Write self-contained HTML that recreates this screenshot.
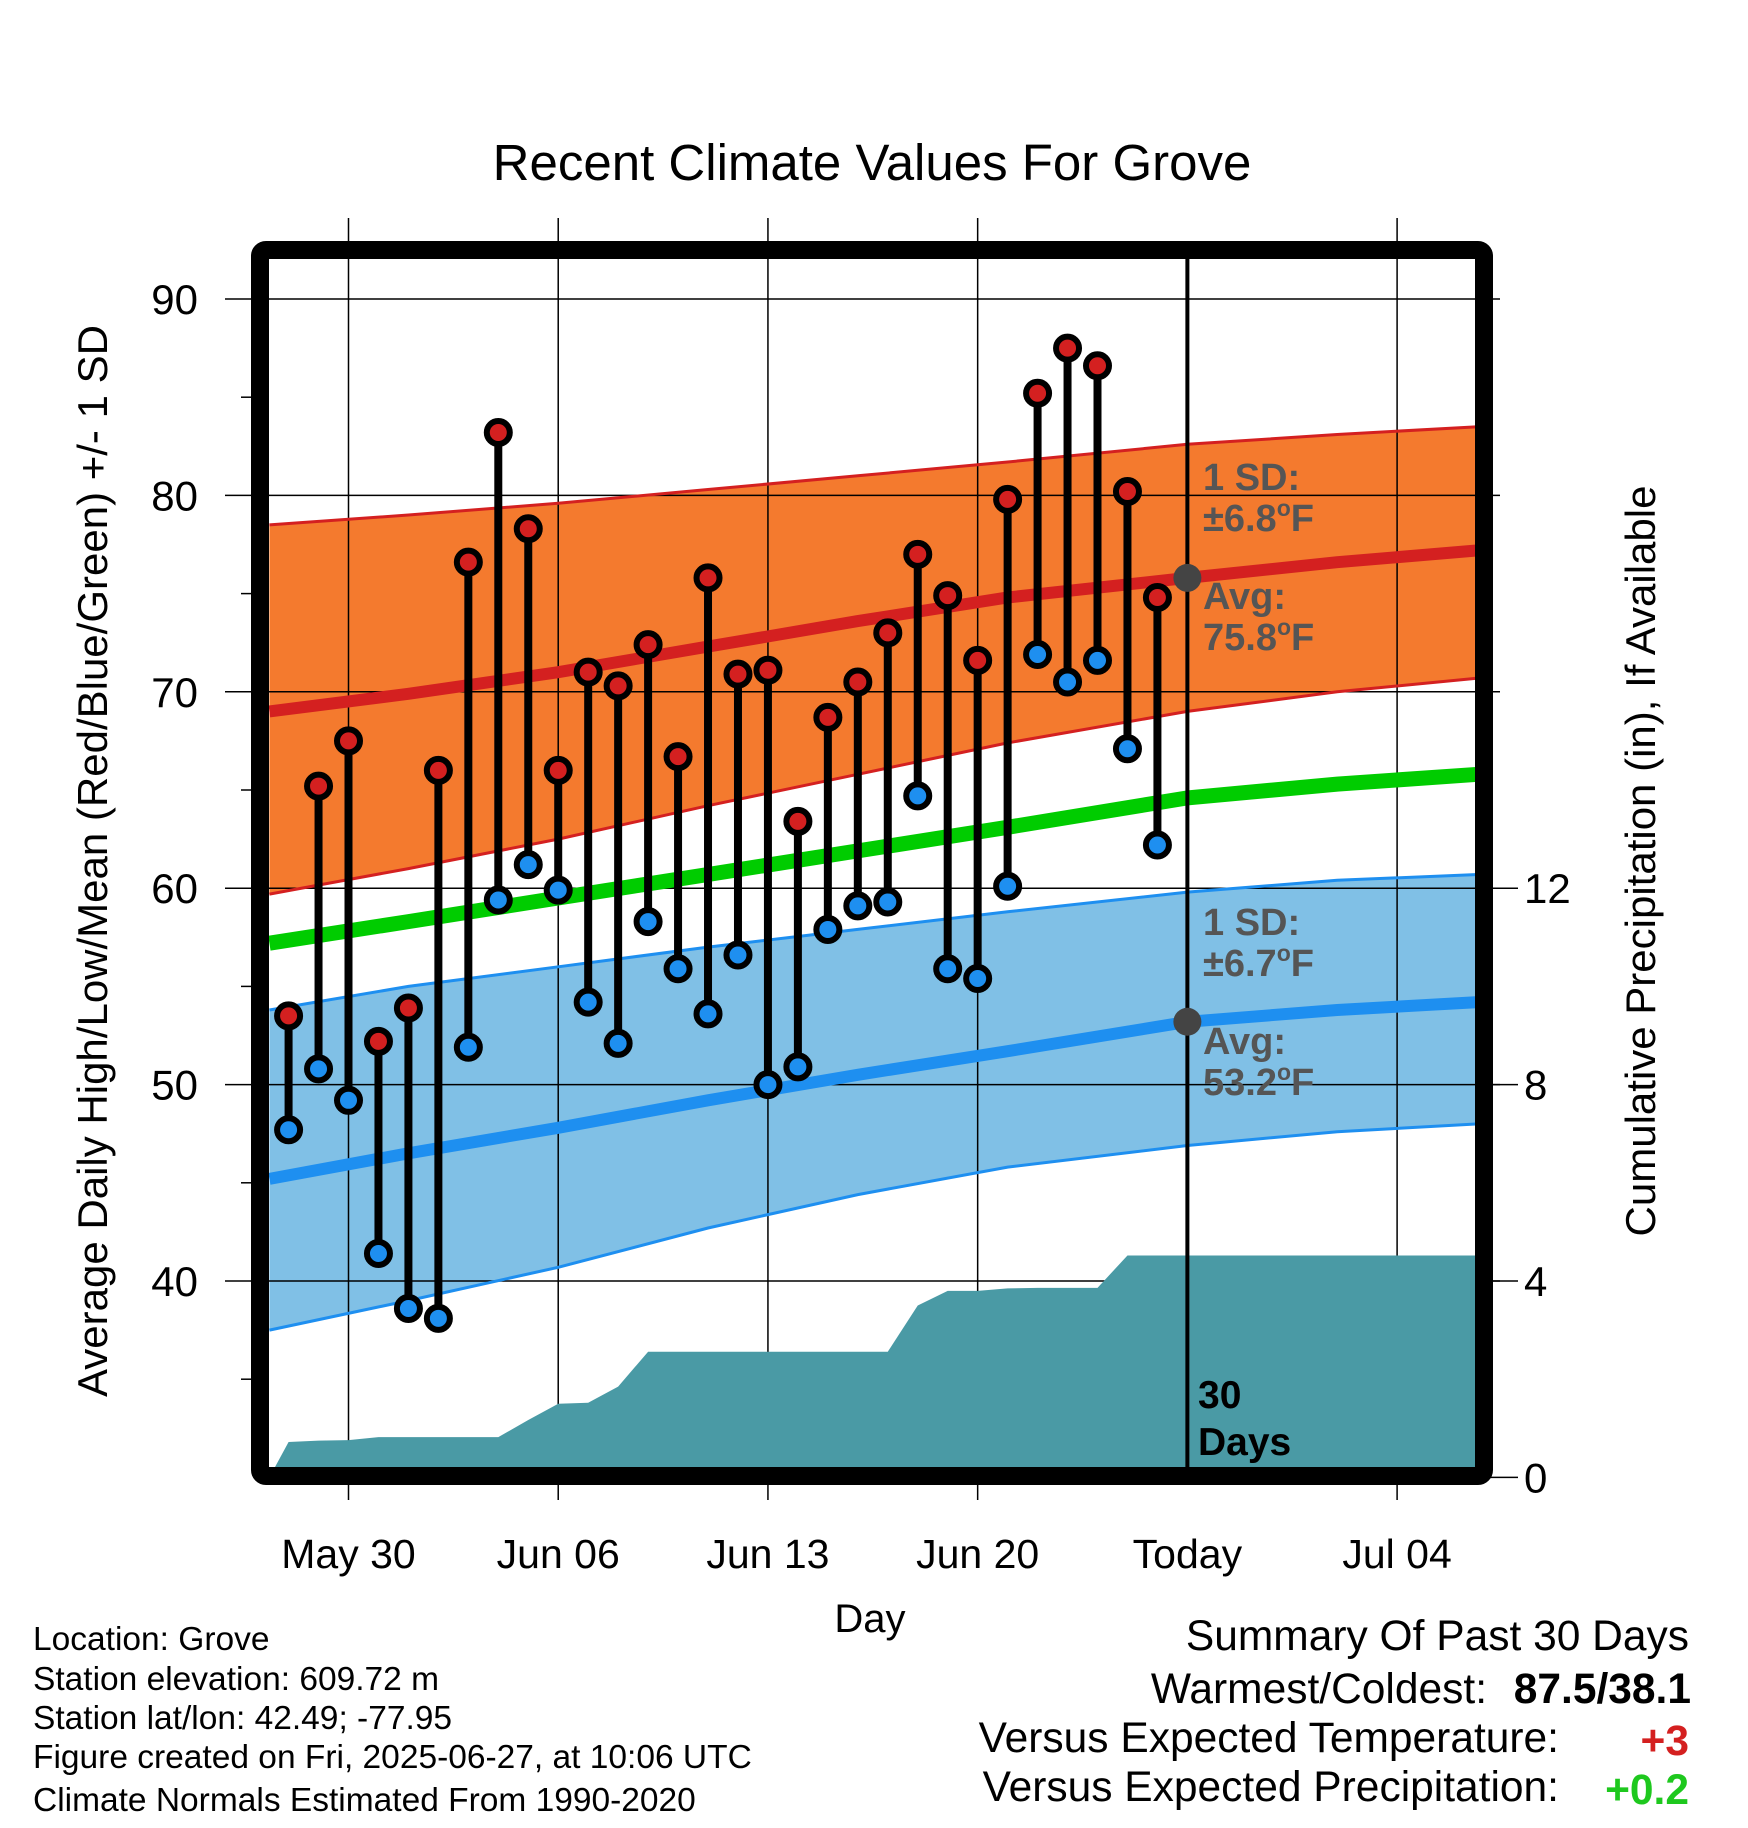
<!DOCTYPE html>
<html><head><meta charset="utf-8"><style>
html,body{margin:0;padding:0;background:#fff;}
svg{display:block;font-family:"Liberation Sans",sans-serif;}
</style></head><body>
<svg id="chart" width="1748" height="1828" viewBox="0 0 1748 1828" xmlns="http://www.w3.org/2000/svg">
<rect x="0" y="0" width="1748" height="1828" fill="#fff"/>
<text x="872" y="180" font-size="51" text-anchor="middle">Recent Climate Values For Grove</text>
<g id="plot"></g>
<text transform="translate(107,861) rotate(-90)" font-size="42" text-anchor="middle">Average Daily High/Low/Mean (Red/Blue/Green) +/- 1 SD</text>
<text transform="translate(1655,861) rotate(-90)" font-size="42" text-anchor="middle">Cumulative Precipitation (in), If Available</text>
<text x="870" y="1632" font-size="40" text-anchor="middle">Day</text>
<g font-size="33.5">
<text x="33" y="1650">Location: Grove</text>
<text x="33" y="1690">Station elevation: 609.72 m</text>
<text x="33" y="1729">Station lat/lon: 42.49; -77.95</text>
<text x="33" y="1768">Figure created on Fri, 2025-06-27, at 10:06 UTC</text>
<text x="33" y="1811">Climate Normals Estimated From 1990-2020</text>
</g>
<g font-size="42.5">
<text x="1689" y="1650" text-anchor="end">Summary Of Past 30 Days</text>
<text x="1487" y="1703" text-anchor="end">Warmest/Coldest:</text>
<text x="1691" y="1703" text-anchor="end" font-weight="bold">87.5/38.1</text>
<text x="1559" y="1752" text-anchor="end">Versus Expected Temperature:</text>
<text x="1689" y="1755" text-anchor="end" font-weight="bold" fill="#d42020">+3</text>
<text x="1559" y="1801" text-anchor="end">Versus Expected Precipitation:</text>
<text x="1689" y="1804" text-anchor="end" font-weight="bold" fill="#1ec81e">+0.2</text>
</g>
</svg>
<script>
const days = [-2,-1,0,1,2,3,4,5,6,7,8,9,10,11,12,13,14,15,16,17,18,19,20,21,22,23,24,25,26,27];
const highs = [53.5,65.2,67.5,52.2,53.9,66.0,76.6,83.2,78.3,66.0,71.0,70.3,72.4,66.7,75.8,70.9,71.1,63.4,68.7,70.5,73.0,77.0,74.9,71.6,79.8,85.2,87.5,86.6,80.2,74.8];
const lows = [47.7,50.8,49.2,41.4,38.6,38.1,51.9,59.4,61.2,59.9,54.2,52.1,58.3,55.9,53.6,56.6,50.0,50.9,57.9,59.1,59.3,64.7,55.9,55.4,60.1,71.9,70.5,71.6,67.1,62.2];
const precip = [0.72,0.75,0.76,0.82,0.82,0.82,0.82,0.82,1.17,1.5,1.52,1.85,2.56,2.56,2.56,2.56,2.56,2.56,2.56,2.56,2.56,3.5,3.8,3.8,3.85,3.86,3.86,3.86,4.52,4.52];
const normDays = [-2.64,2,7,12,17,22,28,33,37.7];
const avgHigh = [69.0,69.9,71.0,72.3,73.6,74.8,75.8,76.6,77.2];
const upperHigh = [78.5,79.0,79.6,80.3,81.0,81.7,82.6,83.1,83.5];
const lowerHigh = [59.7,61.0,62.5,64.2,65.8,67.4,69.0,70.0,70.7];
const avgMean = [57.2,58.3,59.5,60.7,61.9,63.1,64.6,65.3,65.8];
const avgLow = [45.2,46.5,47.8,49.2,50.5,51.7,53.2,53.8,54.2];
const upperLow = [53.8,55.0,56.0,57.0,57.9,58.8,59.8,60.4,60.7];
const lowerLow = [37.5,39.0,40.7,42.7,44.4,45.8,46.9,47.6,48.0];
const yTicks = [40,50,60,70,80,90];
const yMinor = [35,45,55,65,75,85];
const y2Ticks = [0,4,8,12];
const xTickDays = [0,7,14,21,28,35];
const xTickLabels = ["May 30","Jun 06","Jun 13","Jun 20","Today","Jul 04"];
const todayDay = 28;

const NS="http://www.w3.org/2000/svg";
const X0=348.5, DX=29.96, Y90=299, DY=19.64;
const L=269, R=1475, T=259, B=1468;
function xs(d){return X0+d*DX;}
function ys(v){return Y90+(90-v)*DY;}
function yp(p){return ys(30+p*2.5);}
const plot=document.getElementById('plot');
function mk(tag,attrs,parent){const e=document.createElementNS(NS,tag);for(const k in attrs)e.setAttribute(k,attrs[k]);(parent||plot).appendChild(e);return e;}
function linePts(vals){return normDays.map((d,i)=>xs(d).toFixed(1)+','+ys(vals[i]).toFixed(1)).join(' ');}
function band(up,lo,fill,name){
  const pts=normDays.map((d,i)=>xs(d)+','+ys(up[i])).concat(normDays.slice().reverse().map((d,j)=>{const i=normDays.length-1-j;return xs(d)+','+ys(lo[i]);}));
  const p=mk('polygon',{points:pts.join(' '),fill:fill});
  
  
}
band(upperHigh,lowerHigh,'#f47a2e','high-sd-band');
band(upperLow,lowerLow,'#80c0e6','low-sd-band');
yTicks.forEach(v=>{const g=mk('line',{x1:225,x2:1500,y1:ys(v),y2:ys(v),stroke:'#000','stroke-width':1.5});
  
  });
xTickDays.forEach((d,i)=>{if(d!==todayDay){const g=mk('line',{x1:xs(d),x2:xs(d),y1:218,y2:1500,stroke:'#000','stroke-width':1.5});
  
  }});
[[upperHigh,'#d42020'],[lowerHigh,'#d42020'],[upperLow,'#1e8ff0'],[lowerLow,'#1e8ff0']].forEach(a=>{
  const l=mk('polyline',{points:linePts(a[0]),fill:'none',stroke:a[1],'stroke-width':3});
  
  
});
{
  let pts=[xs(-2.64)+','+yp(0)];
  days.forEach((d,i)=>pts.push(xs(d)+','+yp(precip[i])));
  pts.push(xs(37.7)+','+yp(precip[precip.length-1]));
  pts.push(xs(37.7)+','+yp(0));
  const p=mk('polygon',{points:pts.join(' '),fill:'#4a9aa5'});
  
  
}
[[avgHigh,'#d42020',12,'avg-high-line'],[avgMean,'#00cc00',15,'avg-mean-line'],[avgLow,'#1e8ff0',12,'avg-low-line']].forEach(a=>{
  const l=mk('polyline',{points:linePts(a[0]),fill:'none',stroke:a[1],'stroke-width':a[2]});
  
  
});
{const l=mk('line',{x1:xs(todayDay),x2:xs(todayDay),y1:T,y2:B,stroke:'#000','stroke-width':4});

}
[[75.8,'avg-high-today-marker'],[53.2,'avg-low-today-marker']].forEach(a=>{
  const c=mk('circle',{cx:xs(todayDay),cy:ys(a[0]),r:14,fill:'#444'});
  
  
});
function txt(x,y,s,attrs,name){const t=mk('text',Object.assign({x:x,y:y},attrs));t.textContent=s;
  
  return t;}
function supTxt(x,y,pre,post,name){const t=mk('text',{x:x,y:y,'font-size':38,'font-weight':'bold',fill:'#555'});
  
  
  t.appendChild(document.createTextNode(pre));
  const s=document.createElementNS(NS,'tspan');s.setAttribute('dy','-15');s.setAttribute('font-size','23');s.textContent='o';t.appendChild(s);
  const s2=document.createElementNS(NS,'tspan');s2.setAttribute('dy','15');s2.textContent=post;t.appendChild(s2);}
const ax=1203;
txt(ax,490,'1 SD:',{'font-size':38,'font-weight':'bold',fill:'#555'},'high-sd-label');
supTxt(ax,531,'±6.8','F','high-sd-value');
txt(ax,609,'Avg:',{'font-size':38,'font-weight':'bold',fill:'#555'},'high-avg-label');
supTxt(ax,650,'75.8','F','high-avg-value');
txt(ax,935,'1 SD:',{'font-size':38,'font-weight':'bold',fill:'#555'},'low-sd-label');
supTxt(ax,976,'±6.7','F','low-sd-value');
txt(ax,1054,'Avg:',{'font-size':38,'font-weight':'bold',fill:'#555'},'low-avg-label');
supTxt(ax,1095,'53.2','F','low-avg-value');
txt(1198,1408,'30',{'font-size':39,'font-weight':'bold'},'days-label');
txt(1198,1455,'Days',{'font-size':39,'font-weight':'bold'},'days-label-2');
days.forEach((d,i)=>{
  const s=mk('line',{x1:xs(d),x2:xs(d),y1:ys(highs[i]),y2:ys(lows[i]),stroke:'#000','stroke-width':8});
  
  
});
days.forEach((d,i)=>{
  const h=mk('circle',{cx:xs(d),cy:ys(highs[i]),r:11.5,fill:'#d42020',stroke:'#000','stroke-width':6});
  
  
  const l=mk('circle',{cx:xs(d),cy:ys(lows[i]),r:11.5,fill:'#1e8ff0',stroke:'#000','stroke-width':6});
  
  
});
{const f=mk('rect',{x:260,y:250,width:1224,height:1226,fill:'none',stroke:'#000','stroke-width':18,rx:6});

}
yTicks.forEach(v=>{
  txt(198,ys(v)+15,String(v),{'font-size':42,'text-anchor':'end'},'y-tick-label');
});
yMinor.forEach(v=>{const m=mk('line',{x1:241,x2:252,y1:ys(v),y2:ys(v),stroke:'#000','stroke-width':1.5});
  
  });
y2Ticks.forEach(p=>{
  const m=mk('line',{x1:1490,x2:1518,y1:yp(p),y2:yp(p),stroke:'#000','stroke-width':1.5});
  
  
  txt(1524,yp(p)+15,String(p),{'font-size':42},'y2-tick-label');
});
xTickDays.forEach((d,i)=>{
  txt(xs(d),1568,xTickLabels[i],{'font-size':41,'text-anchor':'middle'},'x-tick-label');
});
</script>
</body></html>
